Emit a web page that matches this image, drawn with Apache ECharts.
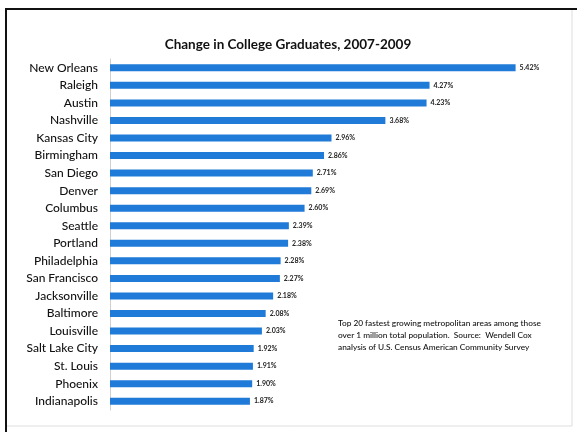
<!DOCTYPE html>
<html><head><meta charset="utf-8">
<script src="https://cdn.jsdelivr.net/npm/echarts@6/dist/echarts.min.js"></script>
<style>html,body{margin:0;padding:0;background:#fff}#c{width:577px;height:432px}</style>
</head><body><div id="c"></div>
<script>
const categories = ["New Orleans","Raleigh","Austin","Nashville","Kansas City","Birmingham","San Diego","Denver","Columbus","Seattle","Portland","Philadelphia","San Francisco","Jacksonville","Baltimore","Louisville","Salt Lake City","St. Louis","Phoenix","Indianapolis"];
const values = [5.42,4.27,4.23,3.68,2.96,2.86,2.71,2.69,2.60,2.39,2.38,2.28,2.27,2.18,2.08,2.03,1.92,1.91,1.90,1.87];
const titleText = "Change in College Graduates, 2007-2009";
const noteLines = ["Top 20 fastest growing metropolitan areas among those","over 1 million total population.  Source:  Wendell Cox","analysis of U.S. Census American Community Survey"];

const chart = echarts.init(document.getElementById('c'), null, {renderer:'canvas'});
chart.setOption({
  animation:false,
  backgroundColor:'#fff',
  title:{text:titleText,left:283,top:33,textAlign:'center',textStyle:{fontFamily:'Lato',fontSize:13.5,fontWeight:'bold',color:'#111'}},
  grid:{left:110,right:18,top:59,bottom:22,containLabel:false},
  xAxis:{type:'value',min:0,max:6,show:false},
  yAxis:{type:'category',data:categories,inverse:true,
    axisLine:{show:true,lineStyle:{color:'#d0d0d0',width:1}},
    axisTick:{show:false},
    axisLabel:{fontFamily:'Lato',fontSize:12,fontWeight:500,color:'#111',margin:12}},
  series:[{type:'bar',data:values,barWidth:7,itemStyle:{color:'#1f7ad8'},
    label:{show:true,position:'right',distance:4,fontFamily:'Lato',fontSize:7,fontWeight:'bold',color:'#222',
      formatter:p=>p.value.toFixed(2)+'%'}}],
  graphic:[
    {type:'line',shape:{x1:6,y1:9,x2:577,y2:9},style:{stroke:'#111',lineWidth:2}},
    {type:'line',shape:{x1:6,y1:8,x2:6,y2:432},style:{stroke:'#111',lineWidth:2}},
    {type:'line',shape:{x1:572,y1:10,x2:572,y2:426},style:{stroke:'#ddd',lineWidth:1}},
    {type:'line',shape:{x1:7,y1:426,x2:572,y2:426},style:{stroke:'#ddd',lineWidth:1}},
    {type:'text',left:338,top:317,style:{text:noteLines.join('\n'),fontFamily:'Lato',fontSize:8.3,fontWeight:500,lineHeight:12,fill:'#111'}}
  ]
});
</script></body></html>
